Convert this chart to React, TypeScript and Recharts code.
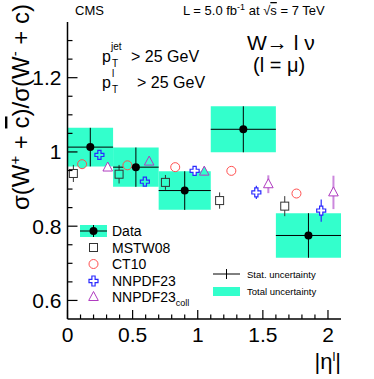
import React from 'react';
import { ComposedChart, XAxis, YAxis, Scatter, ErrorBar, ReferenceArea } from 'recharts';

// ---------- data ----------
const binLow = [0, 0.35, 0.7, 1.1, 1.6];
const binHigh = [0.35, 0.7, 1.1, 1.6, 2.1];
const dataValues = [1.013, 0.959, 0.896, 1.061, 0.775];
const statErrors = [0.052, 0.053, 0.052, 0.062, 0.06];
const totalErrors = [0.052, 0.053, 0.052, 0.062, 0.06];

const mstwX = [0.045, 0.396, 0.752, 1.168, 1.668];
const mstwY = [0.942, 0.94, 0.918, 0.869, 0.854];
const mstwErr = [0.023, 0.025, 0.02, 0.022, 0.027];

const ct10X = [0.112, 0.46, 0.827, 1.258, 1.758];
const ct10Y = [0.967, 0.964, 0.959, 0.949, 0.888];
const ct10Err = [0, 0, 0, 0, 0];

const nnpdfX = [0.245, 0.594, 0.976, 1.45, 1.948];
const nnpdfY = [0.992, 0.92, 0.949, 0.891, 0.842];
const nnpdfErr = [0.008, 0.008, 0.008, 0.018, 0.03];

const collX = [0.309, 0.627, 1.05, 1.542, 2.042];
const collY = [0.958, 0.974, 0.947, 0.913, 0.891];
const collErr = [0.008, 0.008, 0.012, 0.024, 0.045];

const xTicks = [0, 0.1, 0.2, 0.3, 0.4, 0.5, 0.6, 0.7, 0.8, 0.9, 1, 1.1, 1.2, 1.3, 1.4, 1.5, 1.6, 1.7, 1.8, 1.9, 2];
const xMajor = [0, 0.5, 1, 1.5, 2];
const xLabels = ['0', '0.5', '1', '1.5', '2'];
const yTicks = [0.6, 0.65, 0.7, 0.75, 0.8, 0.85, 0.9, 0.95, 1, 1.05, 1.1, 1.15, 1.2, 1.25, 1.3];
const yMajor = [0.6, 0.8, 1, 1.2];
const yLabels = ['0.6', '0.8', '1', '1.2'];

// ---------- derived tables ----------
const dataPoints = dataValues.map((v, i) => ({
  x: (binLow[i] + binHigh[i]) / 2,
  y: v,
  ex: (binHigh[i] - binLow[i]) / 2,
  ey: statErrors[i],
}));
const boxes = dataValues.map((v, i) => ({ x1: binLow[i], x2: binHigh[i], y1: v - totalErrors[i], y2: v + totalErrors[i] }));
const mk = (xs: number[], ys: number[], es: number[]) => xs.map((x, i) => ({ x, y: ys[i], ey: es[i] }));
const mstwData = mk(mstwX, mstwY, mstwErr);
const ct10Data = mk(ct10X, ct10Y, ct10Err);
const nnpdfData = mk(nnpdfX, nnpdfY, nnpdfErr);
const collData = mk(collX, collY, collErr);

const TEAL = '#33ffcc';
const FONT = '"Liberation Sans", Arial, Helvetica, sans-serif';

const bgAt = (x: number, y: number) =>
  boxes.some((b) => x >= b.x1 && x <= b.x2 && y >= b.y1 && y <= b.y2) ? TEAL : '#ffffff';

const near = (a: number, b: number) => Math.abs(a - b) < 1e-6;
const majorIdx = (v: number, arr: number[]) => arr.findIndex((m) => near(m, v));

// ---------- ticks ----------
const BottomTick = (p: any) => {
  const v = p.payload.value;
  const i = majorIdx(v, xMajor);
  const len = i >= 0 ? 9 : 4.5;
  return (
    <g>
      <line x1={p.x} x2={p.x} y1={p.y} y2={p.y - len} stroke="#000" strokeWidth={1.2} />
      {i >= 0 && (
        <text x={p.x} y={p.y + 23} textAnchor="middle" fontSize={21} fontFamily={FONT} fill="#000">
          {xLabels[i]}
        </text>
      )}
    </g>
  );
};
const TopTick = (p: any) => {
  const i = majorIdx(p.payload.value, xMajor);
  const len = i >= 0 ? 9 : 4.5;
  return <line x1={p.x} x2={p.x} y1={p.y} y2={p.y + len} stroke="#000" strokeWidth={1.2} />;
};
const LeftTick = (p: any) => {
  const i = majorIdx(p.payload.value, yMajor);
  const len = i >= 0 ? 10 : 5;
  return (
    <g>
      <line x1={p.x} x2={p.x + len} y1={p.y} y2={p.y} stroke="#000" strokeWidth={1.2} />
      {i >= 0 && (
        <text x={p.x - 6} y={p.y} dy="0.36em" textAnchor="end" fontSize={21} fontFamily={FONT} fill="#000">
          {yLabels[i]}
        </text>
      )}
    </g>
  );
};
const RightTick = (p: any) => {
  const i = majorIdx(p.payload.value, yMajor);
  const len = i >= 0 ? 9 : 4.5;
  return <line x1={p.x} x2={p.x - len} y1={p.y} y2={p.y} stroke="#000" strokeWidth={1.2} />;
};

// ---------- markers ----------
const SquareShape = (p: any) => (
  <rect x={p.cx - 4} y={p.cy - 4} width={8} height={8} fill={bgAt(p.payload.x, p.payload.y)} stroke="#333" strokeWidth={1} />
);
const CircleShape = (p: any) => (
  <circle cx={p.cx} cy={p.cy} r={4.5} fill={bgAt(p.payload.x, p.payload.y)} stroke="#ff5050" strokeWidth={1} />
);
const CrossShape = (p: any) => {
  const a = 1.6, b = 4.5;
  const { cx, cy } = p;
  const d = `M${cx - a},${cy - b} H${cx + a} V${cy - a} H${cx + b} V${cy + a} H${cx + a} V${cy + b} H${cx - a} V${cy + a} H${cx - b} V${cy - a} H${cx - a} Z`;
  return <path d={d} fill={bgAt(p.payload.x, p.payload.y)} stroke="#2a2aff" strokeWidth={1.2} />;
};
const TriShape = (p: any) => {
  const { cx, cy } = p;
  return (
    <polygon
      points={`${cx},${cy - 5.5} ${cx - 4.8},${cy + 3.5} ${cx + 4.8},${cy + 3.5}`}
      fill={bgAt(p.payload.x, p.payload.y)}
      stroke="#b03cc0"
      strokeWidth={1}
    />
  );
};
const DotShape = (p: any) => <circle cx={p.cx} cy={p.cy} r={4} fill="#000" />;

// ---------- overlay texts ----------
const Overlay = () => (
  <svg width={374} height={379} style={{ position: 'absolute', left: 0, top: 0, pointerEvents: 'none' }} fontFamily={FONT}>
    <text x={75} y={15} fontSize={13}>CMS</text>
    <text x={183} y={15} fontSize={13}>
      L = 5.0 fb<tspan dy={-5} fontSize={9}>-1</tspan>
      <tspan dy={5}> at </tspan>√<tspan style={{ textDecoration: 'overline' }}>s</tspan> = 7 TeV
    </text>

    <text x={102} y={62} fontSize={16}>p</text>
    <text x={111} y={50} fontSize={10}>jet</text>
    <text x={112} y={67} fontSize={10}>T</text>
    <text x={131} y={62} fontSize={16}>&gt; 25 GeV</text>
    <text x={102} y={88} fontSize={16}>p</text>
    <text x={112} y={77} fontSize={10}>l</text>
    <text x={112} y={93} fontSize={10}>T</text>
    <text x={137} y={88} fontSize={16}>&gt; 25 GeV</text>

    <text x={247} y={50} fontSize={21}>W→ l ν</text>
    <text x={253} y={72} fontSize={20}>(l = μ)</text>

    {/* legend */}
    <rect x={80} y={225} width={27} height={12} fill={TEAL} />
    <line x1={80} x2={107} y1={231} y2={231} stroke="#000" strokeWidth={1} />
    <line x1={93.5} x2={93.5} y1={225} y2={237} stroke="#000" strokeWidth={1} />
    <circle cx={93.5} cy={231} r={4} fill="#000" />
    <text x={112} y={236} fontSize={14}>Data</text>
    <rect x={89.5} y={243.5} width={8} height={8} fill="none" stroke="#333" />
    <text x={112} y={252.5} fontSize={14}>MSTW08</text>
    <circle cx={93.5} cy={264} r={4.5} fill="none" stroke="#ff5050" />
    <text x={112} y={269} fontSize={14}>CT10</text>
    <path d="M91.9,276 H95.1 V279.4 H98 V282.6 H95.1 V286 H91.9 V282.6 H89 V279.4 H91.9 Z" fill="none" stroke="#2a2aff" strokeWidth={1.2} />
    <text x={112} y={286} fontSize={14}>NNPDF23</text>
    <polygon points="93.5,291.5 88.7,300.5 98.3,300.5" fill="none" stroke="#b03cc0" />
    <text x={112} y={302} fontSize={14}>NNPDF23<tspan dy={4} fontSize={9}>coll</tspan></text>

    <line x1={213} x2={240} y1={274} y2={274} stroke="#000" />
    <line x1={226.5} x2={226.5} y1={269} y2={279} stroke="#000" />
    <text x={247} y={277.5} fontSize={9.5}>Stat. uncertainty</text>
    <rect x={213} y={287} width={27} height={9} fill={TEAL} />
    <text x={247} y={295} fontSize={9.5}>Total uncertainty</text>

    {/* axis titles */}
    <text x={341} y={369} fontSize={22} textAnchor="end">
      |η<tspan dy={-8} fontSize={13}>l</tspan><tspan dy={8}>|</tspan>
    </text>
    <g transform="translate(29,4) rotate(-90)">
      <text x={0} y={0} fontSize={24} textAnchor="end">
        σ(W<tspan dy={-9} fontSize={15}>+</tspan><tspan dy={9}> + </tspan>
        <tspan style={{ textDecoration: 'overline' }}>c</tspan>)/σ(W<tspan dy={-9} fontSize={15}>-</tspan>
        <tspan dy={9}> + c)</tspan>
      </text>
    </g>
  </svg>
);

export default function App() {
  return (
    <div style={{ position: 'absolute', left: 0, top: 0, width: 374, height: 379, background: '#fff' }}>
      <ComposedChart width={374} height={379} margin={{ top: 22, right: 33, bottom: 0, left: 0 }}>
        <XAxis
          xAxisId="b"
          dataKey="x"
          type="number"
          domain={[0, 2.1]}
          allowDataOverflow
          ticks={xTicks}
          interval={0}
          height={60}
          tickSize={0}
          tickMargin={0}
          tick={<BottomTick />}
          axisLine={{ stroke: '#000', strokeWidth: 1.5 }}
        />
        <XAxis
          xAxisId="t"
          orientation="top"
          dataKey="x"
          type="number"
          domain={[0, 2.1]}
          allowDataOverflow
          ticks={xTicks}
          interval={0}
          height={0}
          tickSize={0}
          tickMargin={0}
          tick={<TopTick />}
          axisLine={{ stroke: '#000', strokeWidth: 1.5 }}
        />
        <YAxis
          yAxisId="l"
          dataKey="y"
          type="number"
          domain={[0.55, 1.35]}
          allowDataOverflow
          ticks={yTicks}
          interval={0}
          width={67.5}
          tickSize={0}
          tickMargin={0}
          tick={<LeftTick />}
          axisLine={{ stroke: '#000', strokeWidth: 1.5 }}
        />
        <YAxis
          yAxisId="r"
          orientation="right"
          dataKey="y"
          type="number"
          domain={[0.55, 1.35]}
          allowDataOverflow
          ticks={yTicks}
          interval={0}
          width={0}
          tickSize={0}
          tickMargin={0}
          tick={<RightTick />}
          axisLine={{ stroke: '#000', strokeWidth: 1.5 }}
        />
        {boxes.map((b, i) => (
          <ReferenceArea
            key={i}
            xAxisId="b"
            yAxisId="l"
            x1={b.x1}
            x2={b.x2}
            y1={b.y1}
            y2={b.y2}
            fill={TEAL}
            fillOpacity={1}
            stroke="none"
          />
        ))}
        <Scatter xAxisId="b" yAxisId="l" data={mstwData} shape={<SquareShape />} isAnimationActive={false}>
          <ErrorBar dataKey="ey" direction="y" width={0} stroke="#333" strokeWidth={1} />
        </Scatter>
        <Scatter xAxisId="b" yAxisId="l" data={ct10Data} shape={<CircleShape />} isAnimationActive={false} />
        <Scatter xAxisId="b" yAxisId="l" data={nnpdfData} shape={<CrossShape />} isAnimationActive={false}>
          <ErrorBar dataKey="ey" direction="y" width={0} stroke="#2a2aff" strokeWidth={1.2} />
        </Scatter>
        <Scatter xAxisId="b" yAxisId="l" data={collData} shape={<TriShape />} isAnimationActive={false}>
          <ErrorBar dataKey="ey" direction="y" width={0} stroke="#cc88dd" strokeWidth={2} />
        </Scatter>
        <Scatter xAxisId="b" yAxisId="l" data={dataPoints} shape={<DotShape />} isAnimationActive={false}>
          <ErrorBar dataKey="ex" direction="x" width={0} stroke="#000" strokeWidth={1} />
          <ErrorBar dataKey="ey" direction="y" width={0} stroke="#000" strokeWidth={1} />
        </Scatter>
      </ComposedChart>
      <Overlay />
    </div>
  );
}
